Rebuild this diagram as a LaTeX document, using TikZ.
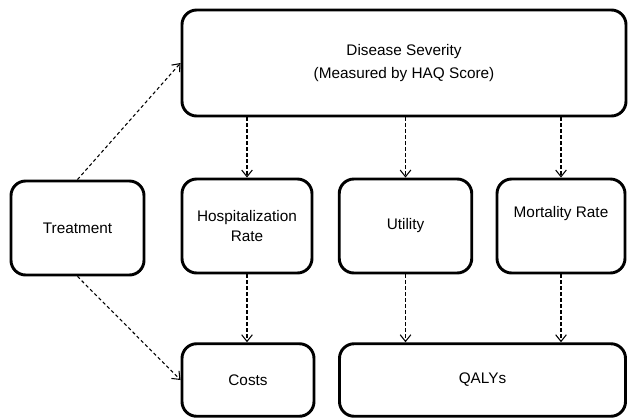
\documentclass[tikz,border=0pt]{standalone}
\usepackage{fontspec}
\setmainfont{Liberation Sans}
\usetikzlibrary{arrows.meta,positioning}
\definecolor{Ink}{HTML}{000000}
\begin{document}
\begin{tikzpicture}[x=0.75pt,y=-0.75pt,
  box/.style={draw=Ink,line width=2.2pt,rounded corners=11pt,align=center,
    inner sep=0pt,font=\fontsize{11.5}{15}\selectfont},
  dep/.style={draw=Ink,line width=0.8pt,dash pattern=on 2.5pt off 2pt,
    -{Straight Barb[length=5pt,width=8pt]}}]
  \useasboundingbox (0,0) rectangle (628,419);
  % top and left boxes
  \node[box,minimum width=333pt,minimum height=79.5pt] (sev) at (404,63)
    {Disease Severity\\[2pt](Measured by HAQ Score)};
  \node[box,minimum width=99.75pt,minimum height=70.5pt] (treat) at (77.5,228) {Treatment};
  % middle row
  \node[box,minimum width=97.5pt,minimum height=70.5pt] (hosp) at (247,226) {Hospitalization\\Rate};
  \node[box,minimum width=99.4pt,minimum height=70.5pt] (util) at (405.5,226) {Utility};
  \node[box,minimum width=96pt,minimum height=70.5pt,text depth=21pt] (mort) at (561,226) {Mortality Rate};
  % bottom row
  \node[box,minimum width=99pt,minimum height=54.4pt] (costs) at (248,380) {Costs};
  \node[box,minimum width=214.5pt,minimum height=54.4pt] (qaly) at (482.5,380) {QALYs};
  % dependencies
  \draw[dep] (treat.north) -- (sev.west);
  \draw[dep] (treat.south) -- (costs.west);
  \draw[dep] (hosp.north |- sev.south) -- (hosp.north);
  \draw[dep] (util.north |- sev.south) -- (util.north);
  \draw[dep] (mort.north |- sev.south) -- (mort.north);
  \draw[dep] (hosp.south) -- (hosp.south |- costs.north);
  \draw[dep] (util.south) -- (util.south |- qaly.north);
  \draw[dep] (mort.south) -- (mort.south |- qaly.north);
\end{tikzpicture}
\end{document}
